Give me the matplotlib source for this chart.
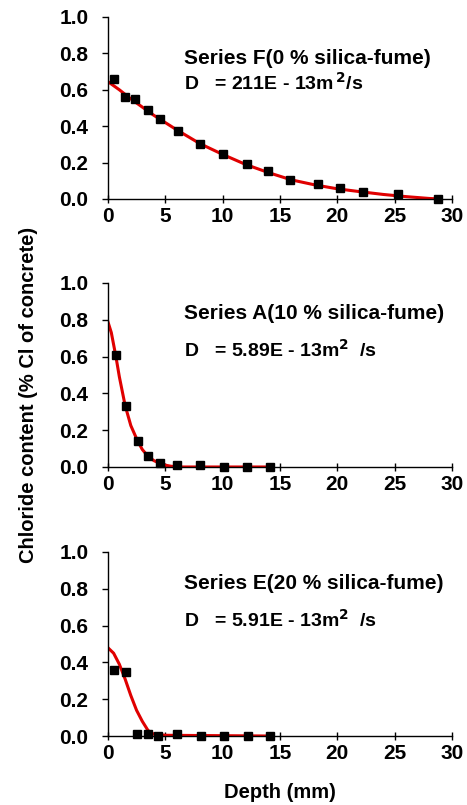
import numpy as np
import matplotlib
matplotlib.use("Agg")
import matplotlib.pyplot as plt

plt.rcParams['font.family'] = ['Liberation Sans', 'DejaVu Sans']
plt.rcParams['font.weight'] = 'bold'
plt.rcParams['axes.labelweight'] = 'bold'
plt.rcParams['mathtext.default'] = 'bf'

# ---- measured points (depth mm, chloride %) ----
f_depth = [0.5, 1.5, 2.4, 3.5, 4.5, 6.1, 8.0, 10.0, 12.1, 14.0, 15.9, 18.3, 20.2, 22.2, 25.3, 28.8]
f_cl = [0.66, 0.56, 0.55, 0.49, 0.44, 0.375, 0.30, 0.245, 0.19, 0.152, 0.106, 0.082, 0.06, 0.04, 0.029, 0.0]

a_depth = [0.7, 1.55, 2.6, 3.5, 4.55, 6.0, 8.05, 10.1, 12.1, 14.1]
a_cl = [0.607, 0.333, 0.143, 0.058, 0.024, 0.009, 0.009, 0.0, 0.0, 0.0]

e_depth = [0.5, 1.6, 2.55, 3.5, 4.4, 6.0, 8.1, 10.1, 12.2, 14.1]
e_cl = [0.359, 0.347, 0.013, 0.013, 0.0, 0.013, 0.0, 0.0, 0.0, 0.0]

# ---- fitted curves ----
f_fit_x = [0, 1, 2, 3, 4, 5, 6, 8, 10, 12, 14, 16, 18, 20, 22, 24, 26, 27, 28, 29]
f_fit_y = [0.645, 0.60, 0.55, 0.505, 0.46, 0.42, 0.38, 0.305, 0.245, 0.19, 0.145, 0.105,
           0.078, 0.056, 0.04, 0.025, 0.013, 0.008, 0.003, 0.0]

a_fit_x = [0, 0.3, 0.7, 1.0, 1.5, 2.0, 2.6, 3.0, 3.5, 4.0, 4.5, 5.0, 5.5, 6.5, 14.2]
a_fit_y = [0.79, 0.73, 0.60, 0.49, 0.335, 0.225, 0.14, 0.095, 0.058, 0.035, 0.02, 0.01, 0.004, 0.0, 0.0]

e_fit_x = [0, 0.5, 1.0, 1.5, 2.0, 2.5, 3.0, 3.5, 4.0, 5.0, 14.2]
e_fit_y = [0.48, 0.45, 0.39, 0.31, 0.22, 0.14, 0.08, 0.03, 0.01, 0.004, 0.0]

series_titles = ["Series F(0 % silica-fume)", "Series A(10 % silica-fume)", "Series E(20 % silica-fume)"]
d_labels = [r"D   = 211E - 13m$^{\,2}$/s", r"D   = 5.89E - 13m$^{2}$  /s", r"D   = 5.91E - 13m$^{2}$  /s"]

panels = [
    (f_depth, f_cl, f_fit_x, f_fit_y),
    (a_depth, a_cl, a_fit_x, a_fit_y),
    (e_depth, e_cl, e_fit_x, e_fit_y),
]

fig = plt.figure(figsize=(4.67, 8.05), dpi=100)
boxes = [
    [0.231, 0.7528, 0.737, 0.2261],
    [0.231, 0.4199, 0.737, 0.2286],
    [0.231, 0.0857, 0.737, 0.2286],
]
title_y = [0.77, 0.835, 0.83]
dline_y = [0.64, 0.638, 0.63]

for i, (box, (px, py, cx, cy)) in enumerate(zip(boxes, panels)):
    ax = fig.add_axes(box)
    ax.plot(cx, cy, color='#e00000', linewidth=2.2, zorder=2)
    ax.plot(px, py, 's', color='black', markersize=5.5, zorder=3, clip_on=False)
    ax.set_xlim(0, 30)
    ax.set_ylim(0, 1.0)
    ax.set_xticks([0, 5, 10, 15, 20, 25, 30])
    ax.set_yticks([0.0, 0.2, 0.4, 0.6, 0.8, 1.0])
    ax.set_yticklabels(["0.0", "0.2", "0.4", "0.6", "0.8", "1.0"])
    for s in ['top', 'right']:
        ax.spines[s].set_visible(False)
    for s in ['left', 'bottom']:
        ax.spines[s].set_linewidth(1.0)
    ax.tick_params(axis='x', direction='inout', length=6, width=1.0, labelsize=15, pad=3)
    ax.tick_params(axis='y', direction='out', length=4, width=1.0, labelsize=15, pad=10)
    ax.text(6.6, title_y[i], series_titles[i], fontsize=15, va='center', ha='left')
    ax.text(6.6, dline_y[i], d_labels[i], fontsize=14, va='center', ha='left')
    if i == 2:
        ax.set_xlabel("Depth (mm)", fontsize=14.5, fontweight='bold', labelpad=14)

fig.text(0.06, 0.509, "Chloride content (% Cl of concrete)", rotation=90,
         fontsize=14.5, ha='center', va='center')

fig.savefig("out.png", dpi=100)
